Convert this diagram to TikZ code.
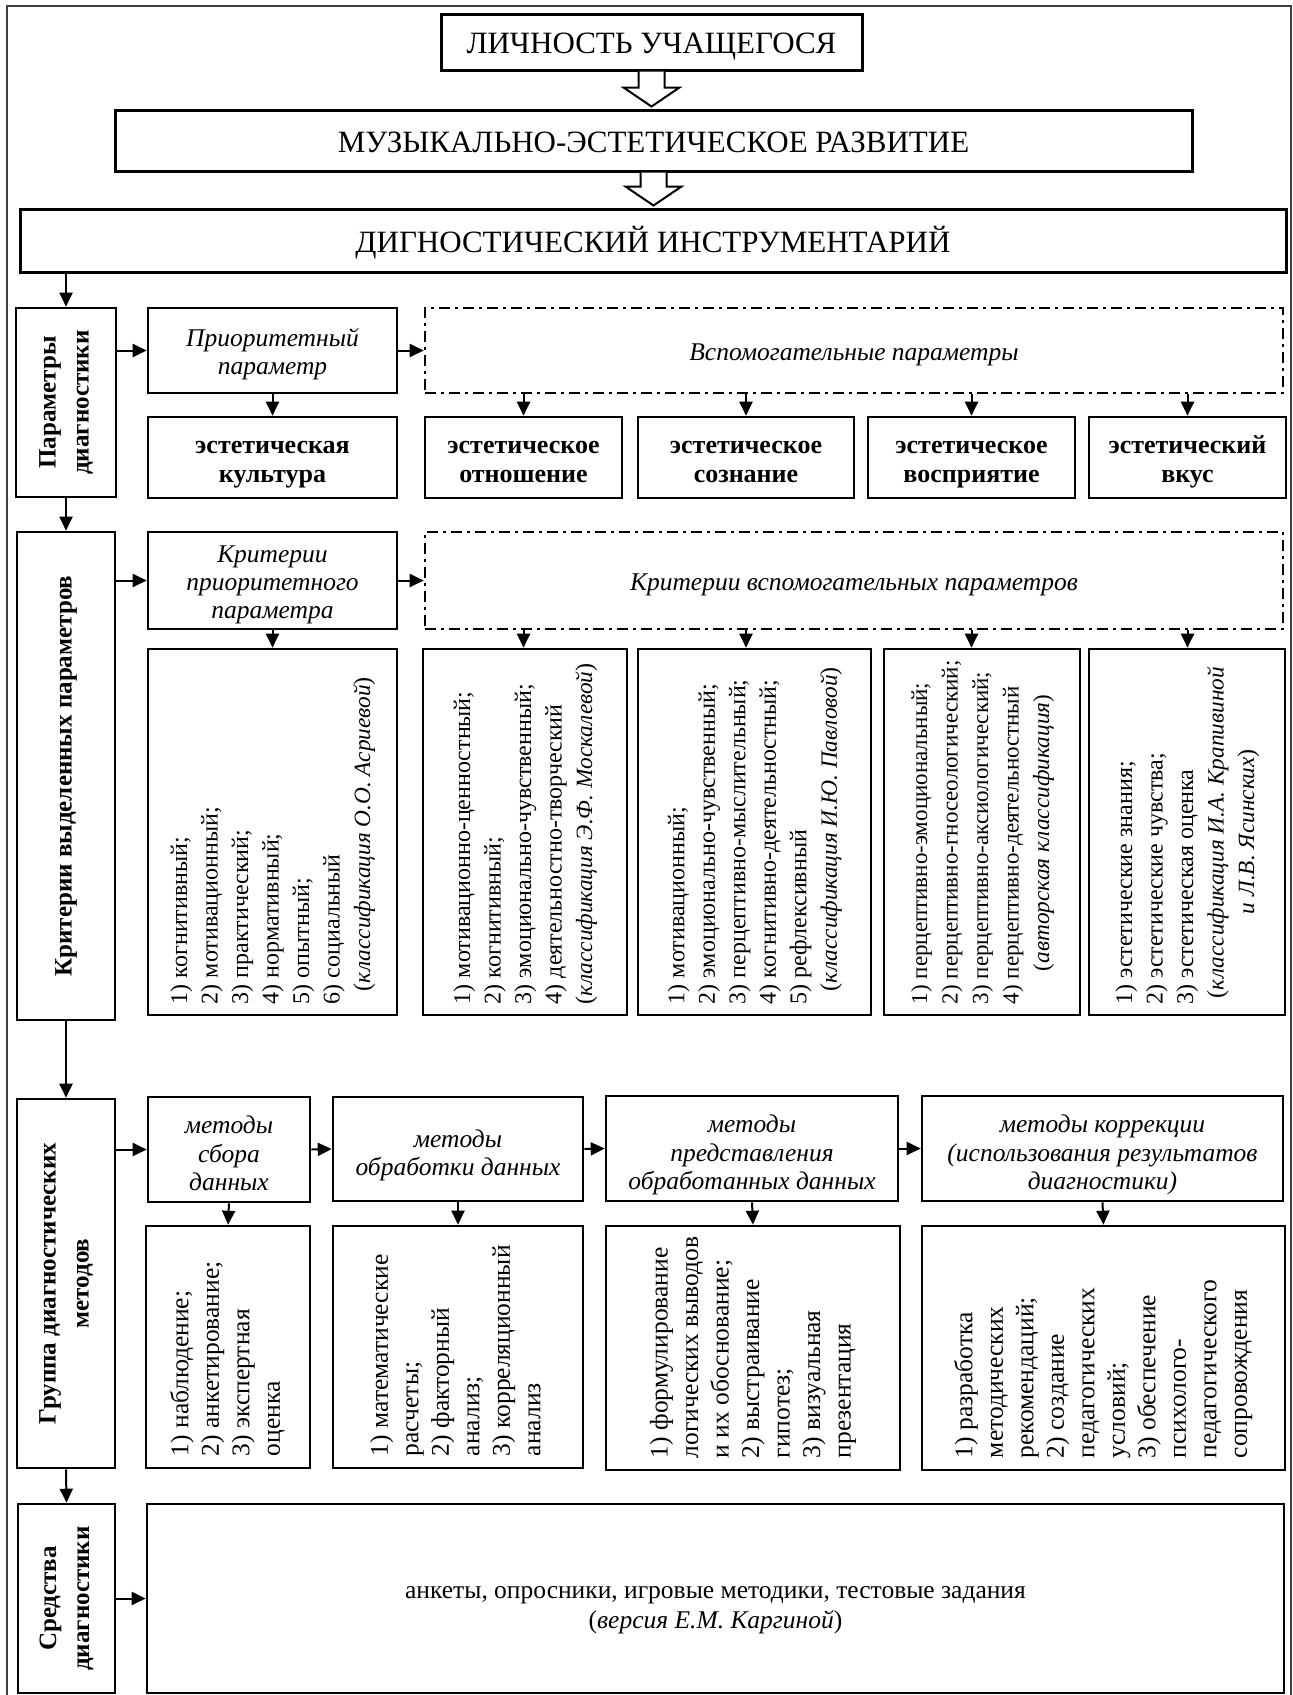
\documentclass[tikz,border=0pt]{standalone}
\usepackage{fontspec}
\setmainfont{Liberation Serif}
\usetikzlibrary{arrows.meta,calc}
\tikzset{
  padtop/.store in=\padtop, padbot/.store in=\padbot, padtop=0pt, padbot=0pt,
  blk/.style={draw, line width=2.6pt, inner sep=0pt, align=center},
  topblk/.style={blk, line width=3pt, font=\fontsize{31}{36}\selectfont, padtop=30pt, padbot=7pt},
  dashblk/.style={blk, dash pattern=on 11pt off 5pt on 3pt off 5pt},
  headtext/.style={font=\fontsize{25.5}{28}\selectfont\itshape, padtop=26pt, padbot=6pt},
  itemtext/.style={font=\fontsize{26}{29}\selectfont\bfseries, padtop=26pt, padbot=6pt},
  sidelabel/.style={rotate=90, align=center, inner sep=0pt, font=\fontsize{25}{33}\selectfont\bfseries},
  listtext/.style={rotate=90, inner sep=0pt, anchor=west, font=\fontsize{24}{30.5}\selectfont},
  arr/.style={line width=2pt, -{Triangle[length=14pt, width=13pt]}},
  hollow/.style={line width=2pt, fill=white},
}
\newcommand{\drawbox}[7][blk]{
\node[#1, minimum width={#5-#3}, minimum height={#6-#4}] (#2) at ({(#3+#5)/2}, {(#4+#6)/2})
  {\rule{0pt}{\padtop}#7\rule[-\padbot]{0pt}{\padbot}};
}
\newcommand{\hollowarrow}[2]{
\draw[hollow] let \p1=(#1.south), \p2=(#2.north) in
  (\x1-13pt,\y1) -- (\x1-13pt,\y2+21pt) -- (\x1-28pt,\y2+21pt) -- (\x1,\y2+2pt)
  -- (\x1+28pt,\y2+21pt) -- (\x1+13pt,\y2+21pt) -- (\x1+13pt,\y1);
}
\newcommand{\cls}[1]{{\fontsize{23.3}{30.5}\selectfont\itshape #1}}

\begin{document}
\begin{tikzpicture}[x=1pt, y=-1pt]
\useasboundingbox (0,0) rectangle (1293,1695);
\draw[line width=1.5pt, black!75] (7,1695) -- (7,6) -- (1291,6) -- (1291,1695);

% top
\drawbox[topblk]{lich}{441}{14}{862}{70}{ЛИЧНОСТЬ УЧАЩЕГОСЯ}
\drawbox[topblk]{muz}{115}{110}{1192}{171}{МУЗЫКАЛЬНО-ЭСТЕТИЧЕСКОЕ РАЗВИТИЕ}
\drawbox[topblk]{dig}{20}{209}{1286}{272}{ДИГНОСТИЧЕСКИЙ ИНСТРУМЕНТАРИЙ}
\hollowarrow{lich}{muz}
\hollowarrow{muz}{dig}

% parameters
\drawbox{par}{16}{308}{116}{497}{}
\node[sidelabel] (par-t) at (par) {Параметры\\диагностики};
\drawbox[blk, headtext]{prio}{148}{308}{397}{393}{Приоритетный\\параметр}
\drawbox[dashblk, headtext]{vsp}{425}{308}{1283}{393}{Вспомогательные параметры}
\drawbox[blk, itemtext]{kult}{148}{417}{397}{498}{эстетическая\\культура}
\drawbox[blk, itemtext]{otn}{425}{417}{622}{498}{эстетическое\\отношение}
\drawbox[blk, itemtext]{soz}{638}{417}{854}{498}{эстетическое\\сознание}
\drawbox[blk, itemtext]{vos}{868}{417}{1075}{498}{эстетическое\\восприятие}
\drawbox[blk, itemtext]{vkus}{1089}{417}{1286}{498}{эстетический\\вкус}

% criteria
\drawbox{krit}{17}{532}{115}{1020}{}
\node[sidelabel] (krit-t) at (krit) {Критерии выделенных параметров};
\drawbox[blk, headtext]{kprio}{148}{532}{397}{629}{Критерии\\приоритетного\\параметра}
\drawbox[dashblk, headtext]{kvsp}{425}{532}{1283}{629}{Критерии вспомогательных параметров}
\drawbox{asr}{148}{649}{397}{1015}{}
\drawbox{mosk}{423}{649}{627}{1015}{}
\drawbox{pavl}{638}{649}{871}{1015}{}
\drawbox{avt}{884}{649}{1080}{1015}{}
\drawbox{krap}{1089}{649}{1285}{1015}{}
\node[listtext] (asr-t) at ([yshift=12pt]asr.south) {\begin{tabular}{@{}l@{}}
1) когнитивный;\\ 2) мотивационный;\\ 3) практический;\\ 4) нормативный;\\
5) опытный;\\ 6) социальный\\ \hspace*{13pt}(\cls{классификация О.О. Асриевой})
\end{tabular}};
\node[listtext] (mosk-t) at ([yshift=12pt]mosk.south) {\begin{tabular}{@{}l@{}}
1) мотивационно-ценностный;\\ 2) когнитивный;\\ 3) эмоционально-чувственный;\\
4) деятельностно-творческий\\ (\cls{классификация Э.Ф. Москалевой})
\end{tabular}};
\node[listtext] (pavl-t) at ([yshift=12pt]pavl.south) {\begin{tabular}{@{}l@{}}
1) мотивационный;\\ 2) эмоционально-чувственный;\\ 3) перцептивно-мыслительный;\\
4) когнитивно-деятельностный;\\ 5) рефлексивный\\ \hspace*{13pt}(\cls{классификация И.Ю. Павловой})
\end{tabular}};
\node[listtext, font=\fontsize{23}{30.5}\selectfont] (avt-t) at ([yshift=12pt]avt.south) {\begin{tabular}{@{}l@{}}
1) перцептивно-эмоциональный;\\ 2) перцептивно-гносеологический;\\ 3) перцептивно-аксиологический;\\
4) перцептивно-деятельностный\\ \hspace*{33pt}(\cls{авторская классификация})
\end{tabular}};
\node[listtext] (krap-t) at ([yshift=12pt]krap.south) {\begin{tabular}{@{}l@{}}
1) эстетические знания;\\ 2) эстетические чувства;\\ 3) эстетическая оценка\\
\hspace*{6pt}(\cls{классификация И.А. Крапивиной}\\ \hspace*{90pt}\cls{и Л.В. Ясинских})
\end{tabular}};

% methods
\drawbox{grp}{17}{1099}{115}{1468}{}
\node[sidelabel] (grp-t) at (grp) {Группа диагностических\\методов};
\tikzset{headtext/.append style={font=\fontsize{25.5}{28.5}\selectfont\itshape, padtop=31pt}}
\drawbox[blk, headtext]{sbor}{148}{1097}{310}{1202}{методы\\сбора\\данных}
\drawbox[blk, headtext]{obr}{333}{1097}{583}{1201}{методы\\обработки данных}
\drawbox[blk, headtext]{pred}{606}{1096}{898}{1201}{методы\\представления\\обработанных данных}
\drawbox[blk, headtext]{korr}{922}{1096}{1283}{1201}{методы коррекции\\(использования результатов\\диагностики)}
\drawbox{sbor-l}{146}{1226}{310}{1468}{}
\drawbox{obr-l}{333}{1226}{583}{1468}{}
\drawbox{pred-l}{606}{1226}{900}{1470}{}
\drawbox{korr-l}{922}{1226}{1285}{1470}{}
\tikzset{listtext/.append style={font=\fontsize{25.5}{30.5}\selectfont}}
\node[listtext] (sbor-t) at ([yshift=13pt]sbor-l.south) {\begin{tabular}{@{}l@{}}
1) наблюдение;\\ 2) анкетирование;\\ 3) экспертная\\ оценка
\end{tabular}};
\node[listtext] (obr-t) at ([yshift=13pt]obr-l.south) {\begin{tabular}{@{}l@{}}
1) математические\\ расчеты;\\ 2) факторный\\ анализ;\\ 3) корреляционный\\ анализ
\end{tabular}};
\node[listtext] (pred-t) at ([yshift=13pt]pred-l.south) {\begin{tabular}{@{}l@{}}
1) формулирование\\ логических выводов\\ и их обоснование;\\ 2) выстраивание\\
гипотез;\\ 3) визуальная\\ презентация
\end{tabular}};
\node[listtext] (korr-t) at ([yshift=13pt]korr-l.south) {\begin{tabular}{@{}l@{}}
1) разработка\\ методических\\ рекомендаций;\\ 2) создание\\ педагогических\\
условий;\\ 3) обеспечение\\ психолого-\\ педагогического\\ сопровождения
\end{tabular}};

% means
\drawbox{sred}{18}{1504}{115}{1693}{}
\node[sidelabel] (sred-t) at (sred) {Средства\\диагностики};
\drawbox[blk, font=\fontsize{25.5}{30}\selectfont, padtop=36pt, padbot=7pt]{sred-l}{147}{1504}{1284}{1693}{анкеты, опросники, игровые методики, тестовые задания\\(\textit{версия Е.М. Каргиной})}

% connectors
\draw[arr] (dig.south -| par.north) -- (par.north);
\draw[arr] (par.east |- prio.west) -- (prio.west);
\draw[arr] (prio.east) -- (vsp.west);
\draw[arr] (prio.south) -- (kult.north);
\foreach \n in {otn,soz,vos,vkus}
  \draw[arr] (vsp.south -| \n.north) -- (\n.north);
\draw[arr] (par.south) -- (krit.north);
\draw[arr] (krit.east |- kprio.west) -- (kprio.west);
\draw[arr] (kprio.east) -- (kvsp.west);
\draw[arr] (kprio.south) -- (asr.north);
\foreach \a/\b in {otn/mosk,soz/pavl,vos/avt,vkus/krap}
  \draw[arr] (kvsp.south -| \a) -- (\b.north -| \a);
\draw[arr] (krit.south) -- (grp.north);
\draw[arr] (grp.east |- sbor.west) -- (sbor.west);
\foreach \a/\b in {sbor/obr,obr/pred,pred/korr}
  \draw[arr] (\a.east) -- (\b.west);
\foreach \a in {sbor,obr,pred,korr}
  \draw[arr] (\a.south) -- (\a-l.north);
\draw[arr] (grp.south) -- (sred.north);
\draw[arr] (sred.east) -- (sred-l.west);
\end{tikzpicture}
\end{document}
